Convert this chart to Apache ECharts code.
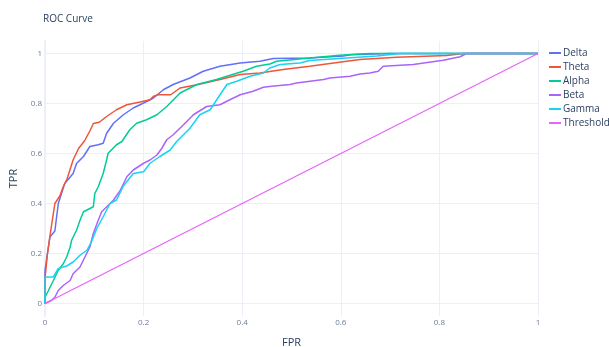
<!DOCTYPE html>
<html>
<head>
<meta charset="utf-8">
<script src="https://cdn.jsdelivr.net/npm/echarts@6/dist/echarts.min.js"></script>
<style>
  html, body { margin: 0; padding: 0; background: #fff; }
  #chart { width: 609px; height: 347px; }
</style>
</head>
<body>
<div id="chart"></div>
<script>
// ROC points as [fpr, tpr]
const seriesNames = ['Delta', 'Theta', 'Alpha', 'Beta', 'Gamma', 'Threshold'];
const tickValues = [0, 0.2, 0.4, 0.6, 0.8, 1];

const delta = [
  [0, 0], [0, 0.133], [0.01, 0.266], [0.02, 0.29], [0.027, 0.4], [0.04, 0.48],
  [0.057, 0.52], [0.064, 0.56], [0.078, 0.588], [0.091, 0.628], [0.108, 0.635],
  [0.118, 0.641], [0.125, 0.681], [0.139, 0.721], [0.159, 0.755], [0.179, 0.782],
  [0.2, 0.802], [0.22, 0.822], [0.24, 0.855], [0.26, 0.876], [0.294, 0.902],
  [0.321, 0.929], [0.355, 0.949], [0.396, 0.962], [0.436, 0.969], [0.463, 0.98],
  [0.537, 0.982], [0.605, 0.99], [0.62, 0.995], [0.7, 1], [1, 1],
];
const theta = [
  [0, 0], [0, 0.1], [0.005, 0.2], [0.01, 0.27], [0.02, 0.4], [0.03, 0.43],
  [0.037, 0.467], [0.045, 0.5], [0.057, 0.574], [0.068, 0.62], [0.08, 0.65],
  [0.091, 0.69], [0.098, 0.72], [0.11, 0.725], [0.125, 0.748], [0.145, 0.775],
  [0.166, 0.795], [0.193, 0.806], [0.213, 0.815], [0.22, 0.829], [0.23, 0.835],
  [0.255, 0.835], [0.274, 0.862], [0.311, 0.876], [0.355, 0.896], [0.396, 0.916],
  [0.436, 0.922], [0.483, 0.936], [0.537, 0.949], [0.612, 0.969], [0.639, 0.976],
  [0.713, 0.985], [0.815, 0.992], [0.848, 1], [1, 1],
];
const alpha = [
  [0, 0], [0, 0.025], [0.007, 0.052], [0.017, 0.092], [0.027, 0.133], [0.037, 0.159],
  [0.044, 0.186], [0.051, 0.226], [0.054, 0.253], [0.064, 0.293], [0.071, 0.333],
  [0.078, 0.367], [0.098, 0.387], [0.101, 0.44], [0.108, 0.467], [0.118, 0.52],
  [0.125, 0.574], [0.128, 0.601], [0.145, 0.635], [0.156, 0.648], [0.172, 0.695],
  [0.186, 0.721], [0.206, 0.735], [0.227, 0.755], [0.247, 0.788], [0.274, 0.842],
  [0.308, 0.876], [0.348, 0.896], [0.369, 0.909], [0.402, 0.929], [0.429, 0.949],
  [0.456, 0.958], [0.47, 0.969], [0.537, 0.982], [0.598, 0.993], [0.639, 0.998],
  [0.66, 1], [1, 1],
];
const beta = [
  [0, 0], [0.013, 0.012], [0.02, 0.025], [0.027, 0.052], [0.037, 0.072], [0.051, 0.092],
  [0.057, 0.119], [0.071, 0.146], [0.081, 0.186], [0.091, 0.226], [0.098, 0.28],
  [0.108, 0.333], [0.115, 0.367], [0.132, 0.4], [0.139, 0.414], [0.152, 0.45],
  [0.166, 0.507], [0.179, 0.534], [0.2, 0.561], [0.213, 0.574], [0.227, 0.594],
  [0.237, 0.621], [0.247, 0.655], [0.26, 0.675], [0.281, 0.715], [0.301, 0.755],
  [0.328, 0.788], [0.355, 0.795], [0.375, 0.815], [0.396, 0.835], [0.422, 0.849],
  [0.443, 0.865], [0.46, 0.869], [0.497, 0.876], [0.51, 0.882], [0.565, 0.896],
  [0.578, 0.902], [0.619, 0.909], [0.639, 0.918], [0.659, 0.922], [0.676, 0.929],
  [0.686, 0.949], [0.747, 0.956], [0.808, 0.973], [0.842, 0.987], [0.855, 1], [1, 1],
];
const gamma = [
  [0, 0], [0, 0.106], [0.017, 0.106], [0.027, 0.14], [0.044, 0.15], [0.057, 0.166],
  [0.071, 0.193], [0.085, 0.213], [0.095, 0.25], [0.105, 0.3], [0.118, 0.347],
  [0.132, 0.4], [0.145, 0.414], [0.159, 0.47], [0.179, 0.52], [0.2, 0.527],
  [0.213, 0.561], [0.233, 0.588], [0.254, 0.614], [0.267, 0.648], [0.294, 0.701],
  [0.314, 0.755], [0.335, 0.775], [0.355, 0.835], [0.369, 0.876], [0.389, 0.889],
  [0.416, 0.909], [0.443, 0.922], [0.456, 0.942], [0.477, 0.956], [0.517, 0.962],
  [0.537, 0.972], [0.612, 0.982], [0.673, 0.99], [0.72, 1], [1, 1],
];
const threshold = [[0, 0], [1, 1]];

const seriesData = [delta, theta, alpha, beta, gamma, threshold];
const colors = ['#636efa', '#ef553b', '#00cc96', '#ab63fa', '#19d3f3', '#e763fa'];

const gridColor = '#ebf0f8';
const textColor = '#2a3f5f';
const tickColor = '#6f7c96';
const font = '"Open Sans", sans-serif';

const chart = echarts.init(document.getElementById('chart'), null, { renderer: 'canvas' });

const series = seriesNames.map((name, i) => ({
  name: name,
  type: 'line',
  data: seriesData[i],
  showSymbol: false,
  symbol: 'none',
  lineStyle: { width: name === 'Threshold' ? 1.2 : 1.5, color: colors[i] },
  itemStyle: { color: colors[i] },
  z: 2 + i,
}));

chart.setOption({
  animation: false,
  textStyle: { fontFamily: font },
  title: {
    text: 'ROC Curve',
    left: 38,
    top: 9,
    textStyle: { fontFamily: font, fontSize: 10, fontWeight: 'normal', color: textColor },
  },
  legend: {
    orient: 'vertical',
    left: 544,
    top: 42,
    icon: 'rect',
    itemWidth: 12,
    itemHeight: 2,
    itemGap: 2,
    data: seriesNames,
    textStyle: { fontFamily: font, fontSize: 10, color: textColor, lineHeight: 12, padding: [0, 0, 0, -3] },
  },
  grid: { left: 45, right: 71, top: 41, bottom: 31, outerBoundsMode: 'none', containLabel: false },
  xAxis: {
    type: 'value',
    min: 0,
    max: 1,
    interval: 0.2,
    name: 'FPR',
    nameLocation: 'middle',
    nameGap: 21,
    nameTextStyle: { fontFamily: font, fontSize: 11, color: textColor },
    axisLine: { show: false },
    axisTick: { show: false },
    axisLabel: { fontFamily: font, fontSize: 8, color: tickColor, margin: 3 },
    splitLine: { show: true, lineStyle: { color: gridColor, width: 1 } },
  },
  yAxis: {
    type: 'value',
    min: -0.05,
    max: 1.05,
    name: 'TPR',
    nameLocation: 'middle',
    nameGap: 23,
    nameTextStyle: { fontFamily: font, fontSize: 11, color: textColor },
    axisLine: { show: true, lineStyle: { color: gridColor, width: 2 } },
    axisTick: { show: false, customValues: tickValues },
    axisLabel: { fontFamily: font, fontSize: 8, color: tickColor, margin: 3, customValues: tickValues },
    splitLine: { show: true, lineStyle: { color: gridColor, width: 1 } },
  },
  color: colors,
  series: series,
});
</script>
</body>
</html>
